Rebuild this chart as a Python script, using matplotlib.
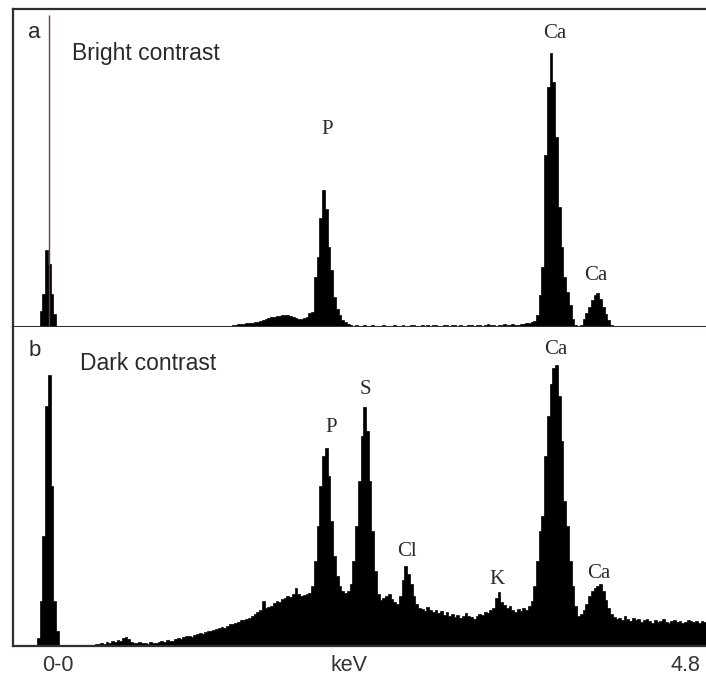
import numpy as np
import matplotlib.pyplot as plt

# channel calibration of both spectra (keV)
bin_start = -0.1
bin_width = 0.02

# (a) bright contrast, counts per channel (arbitrary units)
counts_a = [
    0, 0, 16, 33, 77, 63, 33, 13, 0, 0,
    0, 0, 0, 0, 0, 0, 0, 0, 0, 0,
    0, 0, 0, 0, 0, 0, 0, 0, 0, 0,
    0, 0, 0, 0, 0, 0, 0, 0, 0, 0,
    0, 0, 0, 0, 0, 0, 0, 0, 0, 0,
    0, 0, 0, 0, 0, 0, 0, 0, 0, 0,
    0, 0, 0, 0, 0, 0, 1, 0, 1, 0,
    1, 1, 2, 2, 3, 3, 3, 4, 4, 4,
    5, 5, 6, 7, 8, 9, 10, 10, 11, 11,
    12, 12, 12, 11, 10, 9, 8, 8, 9, 10,
    14, 15, 50, 70, 109, 137, 118, 80, 57, 30,
    18, 12, 7, 5, 3, 2, 1, 2, 1, 1,
    2, 1, 1, 2, 1, 1, 1, 2, 1, 1,
    1, 2, 1, 1, 2, 1, 1, 2, 2, 1,
    1, 2, 1, 2, 1, 2, 2, 1, 1, 2,
    2, 1, 2, 2, 1, 2, 1, 1, 2, 2,
    1, 2, 2, 1, 2, 3, 2, 2, 1, 2,
    2, 3, 2, 2, 3, 2, 2, 3, 3, 4,
    4, 5, 6, 12, 32, 60, 172, 240, 274, 245,
    190, 120, 80, 50, 35, 22, 8, 2, 0, 2,
    8, 14, 20, 27, 32, 34, 28, 20, 13, 7,
    2, 0, 0, 0, 0, 0, 0, 0, 0, 0,
    0, 0, 0, 0, 0, 0, 0, 0, 0, 0,
    0, 0, 0, 0, 0, 0, 0, 0, 0, 0,
    0, 0, 0, 0, 0,
]

# (b) dark contrast, counts per channel (arbitrary units)
counts_b = [
    0, 8, 45, 110, 240, 271, 160, 45, 15, 0,
    0, 0, 0, 0, 0, 0, 0, 0, 0, 0,
    1, 1, 2, 2, 3, 2, 4, 3, 5, 4,
    6, 5, 8, 9, 7, 4, 3, 3, 4, 3,
    3, 2, 4, 3, 3, 4, 5, 4, 6, 5,
    5, 7, 8, 7, 9, 10, 10, 9, 11, 12,
    13, 12, 14, 15, 15, 16, 17, 18, 19, 18,
    20, 22, 22, 23, 24, 26, 26, 27, 28, 30,
    32, 34, 36, 45, 38, 39, 40, 43, 45, 44,
    47, 48, 50, 49, 52, 58, 52, 50, 51, 52,
    53, 60, 85, 120, 160, 190, 198, 170, 125, 90,
    70, 60, 55, 53, 55, 62, 85, 120, 165, 210,
    239, 215, 165, 115, 75, 52, 46, 48, 50, 52,
    47, 44, 42, 50, 66, 80, 72, 62, 50, 42,
    38, 37, 35, 39, 36, 34, 36, 33, 35, 31,
    34, 30, 32, 29, 31, 28, 30, 33, 30, 29,
    27, 30, 32, 31, 34, 33, 36, 38, 48, 54,
    44, 41, 38, 40, 36, 34, 37, 35, 38, 36,
    40, 45, 60, 85, 115, 130, 190, 230, 262, 278,
    281, 250, 205, 145, 120, 85, 60, 40, 30, 32,
    36, 42, 50, 55, 58, 60, 62, 55, 46, 38,
    32, 29, 27, 28, 26, 30, 27, 25, 28, 26,
    27, 24, 26, 27, 25, 23, 26, 24, 25, 27,
    24, 23, 25, 26, 24, 25, 23, 24, 26, 25,
    24, 25, 23, 25, 24,
]

# zero-energy strobe line in (a)
strobe_kev = 0.007
strobe_height = 312

# peak labels: element, energy (keV), label height (counts)
labels_a = ["P", "Ca", "Ca"]
labels_a_kev = [2.035, 3.698, 3.997]
labels_a_y = [197, 294, 51]

labels_b = ["P", "S", "Cl", "K", "Ca", "Ca"]
labels_b_kev = [2.064, 2.319, 2.619, 3.275, 3.705, 4.019]
labels_b_y = [219, 256, 94, 66, 296, 72]

axis_texts = ["0-0", "keV", "4.8"]
axis_texts_kev = [0.073, 2.195, 4.65]

frame_col = "#352d2d"
text_col = "#2a2a2a"
sans = "Liberation Sans"
serif = "Liberation Serif"

fig = plt.figure(figsize=(7.06, 6.77), dpi=100)
ax_a = fig.add_axes([13 / 706, 1 - 327 / 677, 1 - 13 / 706, 318 / 677])
ax_b = fig.add_axes([13 / 706, 1 - 646 / 677, 1 - 13 / 706, 319 / 677])

for ax, counts, top in [(ax_a, counts_a, 318), (ax_b, counts_b, 319)]:
    edges = bin_start + bin_width * np.arange(len(counts) + 1)
    ax.stairs(counts, edges, fill=True, facecolor="black",
              edgecolor="black", lw=0.5)
    ax.set_xlim(-0.255, 4.8)
    ax.set_ylim(0, top)
    ax.set_xticks([])
    ax.set_yticks([])
    ax.spines["right"].set_visible(False)
    for s in ["left", "top", "bottom"]:
        ax.spines[s].set_color(frame_col)
        ax.spines[s].set_linewidth(1.6)

ax_b.spines["top"].set_visible(False)
ax_a.spines["bottom"].set_linewidth(2.2)

ax_a.vlines(strobe_kev, 0, strobe_height, color="#5a4444", lw=1.0)

ax_a.text(0.022, 0.925, "a", transform=ax_a.transAxes, fontsize=16,
          family=sans, color=text_col, va="center", ha="left")
ax_a.text(0.085, 0.86, "Bright contrast", transform=ax_a.transAxes,
          fontsize=16.5, family=sans, color=text_col, va="center", ha="left")
ax_b.text(0.022, 0.925, "b", transform=ax_b.transAxes, fontsize=16,
          family=sans, color=text_col, va="center", ha="left")
ax_b.text(0.096, 0.885, "Dark contrast", transform=ax_b.transAxes,
          fontsize=16.5, family=sans, color=text_col, va="center", ha="left")

for name, e, y in zip(labels_a, labels_a_kev, labels_a_y):
    ax_a.text(e, y, name, fontsize=15, family=serif, color=text_col,
              ha="center", va="center")
for name, e, y in zip(labels_b, labels_b_kev, labels_b_y):
    ax_b.text(e, y, name, fontsize=15, family=serif, color=text_col,
              ha="center", va="center")

for t, e in zip(axis_texts, axis_texts_kev):
    ax_b.annotate(t, xy=(e, -0.06), xycoords=("data", "axes fraction"),
                  fontsize=15.5, family=sans, color="#333333",
                  ha="center", va="center", annotation_clip=False)

fig.savefig("out.png", dpi=100)
